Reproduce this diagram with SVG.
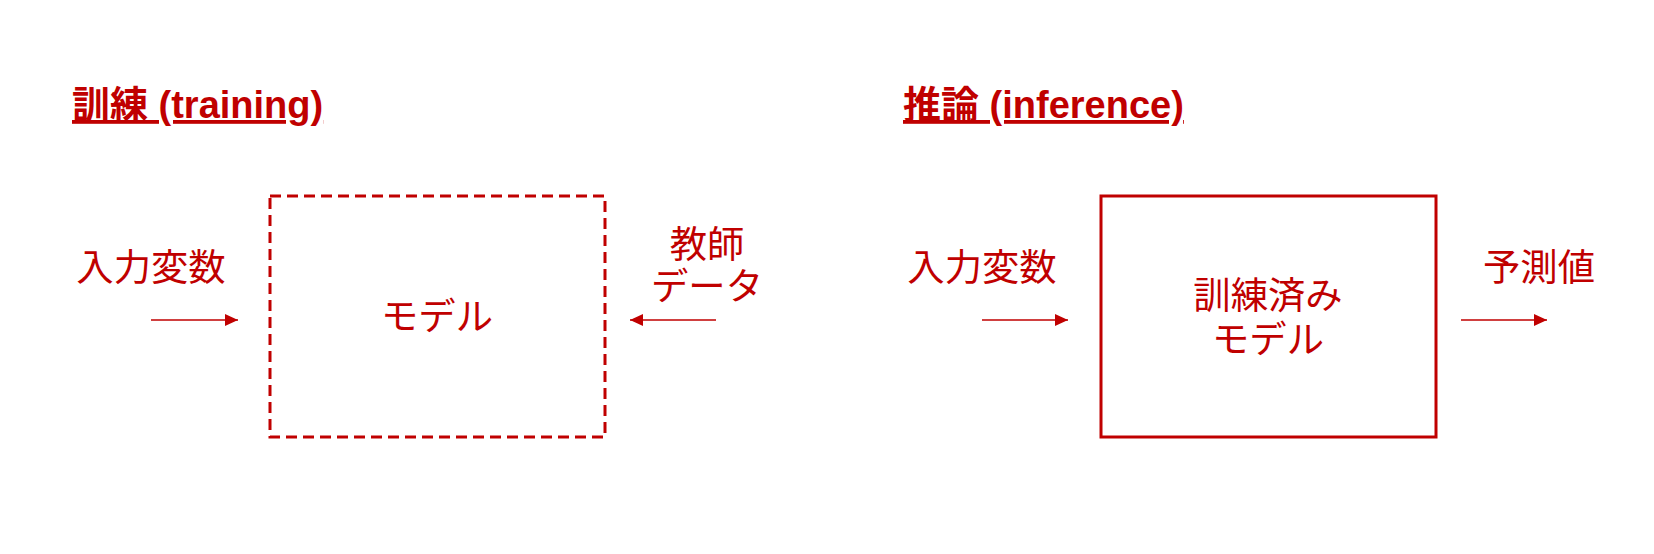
<svg xmlns="http://www.w3.org/2000/svg" width="1654" height="554" viewBox="0 0 1654 554">
  <style>
    text { font-family: "Liberation Sans", "Noto Sans CJK JP", sans-serif; fill: #C00000; }
    .title { font-size: 38px; font-weight: bold; text-decoration: underline; text-decoration-skip-ink: none; text-decoration-thickness: 3.5px; }
    .lbl { font-size: 37.33px; text-anchor: middle; }
    .box { fill: none; stroke: #C00000; stroke-width: 3; }
    .dashed { stroke-dasharray: 11 6; }
    .conn { stroke: #C00000; stroke-width: 1.5; fill: none; }
  </style>
  <defs>
    <marker id="arrow" markerUnits="userSpaceOnUse" markerWidth="13" markerHeight="12" refX="13" refY="6" orient="auto">
      <path d="M0,0 L13,6 L0,12 Z" fill="#C00000"/>
    </marker>
  </defs>
  <rect width="1654" height="554" fill="#FFFFFF"/>

  <g id="title-training"><text class="title" x="72" y="118">訓練 (training)</text></g>
  <g id="title-inference"><text class="title" x="903" y="118">推論 (inference)</text></g>

  <g id="train-input"><text class="lbl" x="151" y="281">入力変数</text></g>
  <g id="train-model">
    <rect class="box dashed" x="270" y="196" width="335" height="241"/>
    <text class="lbl" x="437" y="330">モデル</text>
  </g>
  <g id="train-teacher">
    <text class="lbl" x="707" y="258">教師</text>
    <text class="lbl" x="707" y="300">データ</text>
  </g>

  <g id="infer-input"><text class="lbl" x="982" y="281">入力変数</text></g>
  <g id="infer-model">
    <rect class="box" x="1101" y="196" width="335" height="241"/>
    <text class="lbl" x="1268" y="309">訓練済み</text>
    <text class="lbl" x="1268" y="353">モデル</text>
  </g>
  <g id="infer-output"><text class="lbl" x="1539" y="281">予測値</text></g>

  <g id="connectors">
    <line class="conn" x1="151" y1="320" x2="238" y2="320" marker-end="url(#arrow)"/>
    <line class="conn" x1="716" y1="320" x2="630" y2="320" marker-end="url(#arrow)"/>
    <line class="conn" x1="982" y1="320" x2="1068" y2="320" marker-end="url(#arrow)"/>
    <line class="conn" x1="1461" y1="320" x2="1547" y2="320" marker-end="url(#arrow)"/>
  </g>
</svg>
